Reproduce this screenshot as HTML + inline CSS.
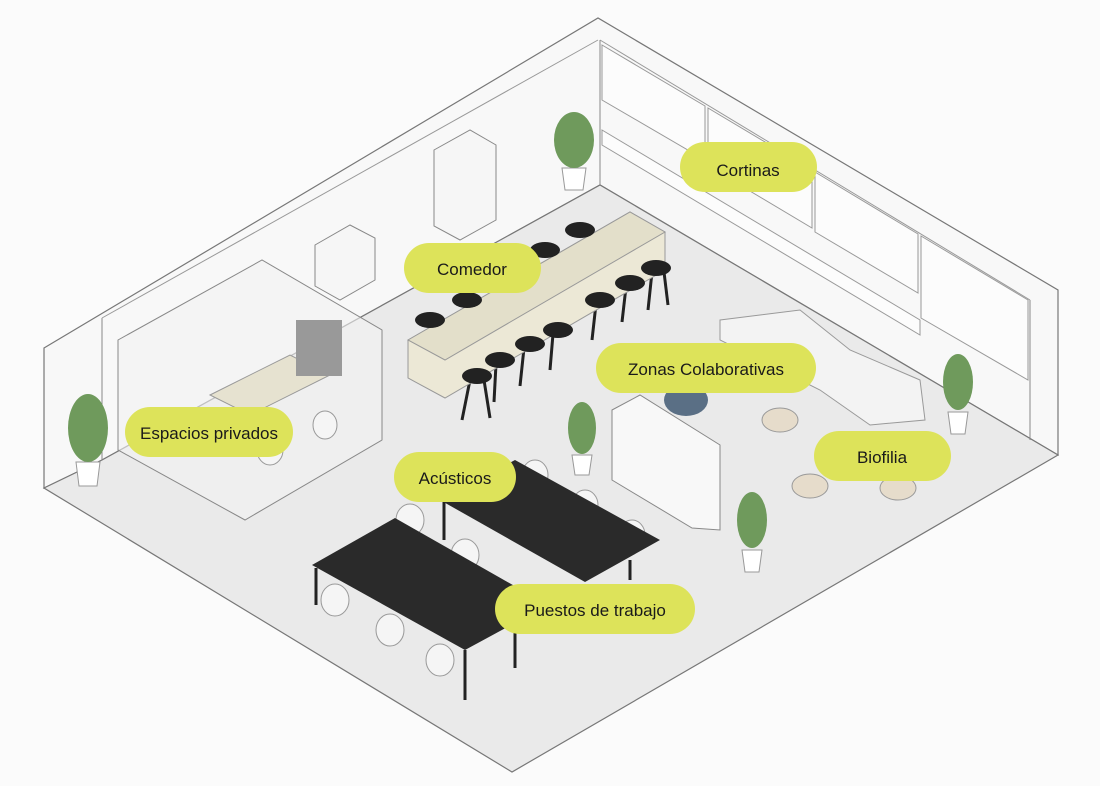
<!DOCTYPE html>
<html><head><meta charset="utf-8"><style>
html,body{margin:0;padding:0;background:#fbfbfb;}
svg{display:block}
text{font-family:"Liberation Sans",sans-serif;font-size:17px;fill:#1a1a1a}
</style></head><body>
<svg width="1100" height="786" viewBox="0 0 1100 786" xmlns="http://www.w3.org/2000/svg">
<rect width="1100" height="786" fill="#fbfbfb"/>
<!-- walls -->
<polygon points="44,348 598,18 1058,290 1058,455 600,185 102,460 44,488" fill="#f8f8f8" stroke="#777" stroke-width="1.2"/>
<!-- floor -->
<polygon points="44,488 102,460 600,185 1058,455 512,772" fill="#eaeaea" stroke="#777" stroke-width="1.2"/>
<line x1="102" y1="318" x2="102" y2="460" stroke="#888"/>
<line x1="600" y1="40" x2="600" y2="185" stroke="#888"/>
<line x1="1030" y1="300" x2="1030" y2="440" stroke="#888"/>
<line x1="102" y1="318" x2="598" y2="40" stroke="#999"/>
<line x1="600" y1="40" x2="1030" y2="300" stroke="#999"/>
<!-- windows right wall -->
<g fill="#fcfcfc" stroke="#999">
<polygon points="602,45 705,106 705,160 602,100"/>
<polygon points="708,108 812,170 812,228 708,166"/>
<polygon points="815,172 918,234 918,293 815,232"/>
<polygon points="921,236 1028,300 1028,380 921,318"/>
<polygon points="602,130 920,320 920,335 602,145"/>
</g>
<!-- cabinets -->
<polygon points="434,150 470,130 496,145 496,220 460,240 434,226" fill="#f6f6f6" stroke="#888"/>
<polygon points="315,245 350,225 375,238 375,280 340,300 315,286" fill="#f6f6f6" stroke="#888"/>
<!-- private glass room -->
<polygon points="118,340 262,260 382,330 382,440 245,520 118,450" fill="#f2f2f2" fill-opacity="0.6" stroke="#888"/>
<polygon points="210,395 290,355 330,375 250,415" fill="#e6e2d0" stroke="#999"/>
<rect x="296" y="320" width="46" height="56" fill="#999"/>
<!-- bar stool legs -->
<g stroke="#222" stroke-width="3">
<line x1="470" y1="380" x2="462" y2="420"/><line x1="484" y1="380" x2="490" y2="418"/>
<line x1="496" y1="364" x2="494" y2="402"/><line x1="524" y1="348" x2="520" y2="386"/>
<line x1="553" y1="334" x2="550" y2="370"/><line x1="596" y1="304" x2="592" y2="340"/>
<line x1="626" y1="287" x2="622" y2="322"/><line x1="652" y1="272" x2="648" y2="310"/><line x1="664" y1="272" x2="668" y2="305"/>
</g>
<!-- bar counter -->
<polygon points="408,340 630,212 665,232 665,270 445,398 408,378" fill="#ece8d6" stroke="#999"/>
<polygon points="408,340 630,212 665,232 445,360" fill="#e3dfca" stroke="#999"/>
<g fill="#222">
<ellipse cx="430" cy="320" rx="15" ry="8"/><ellipse cx="467" cy="300" rx="15" ry="8"/>
<ellipse cx="545" cy="250" rx="15" ry="8"/><ellipse cx="580" cy="230" rx="15" ry="8"/>
<ellipse cx="477" cy="376" rx="15" ry="8"/><ellipse cx="500" cy="360" rx="15" ry="8"/>
<ellipse cx="530" cy="344" rx="15" ry="8"/><ellipse cx="558" cy="330" rx="15" ry="8"/>
<ellipse cx="600" cy="300" rx="15" ry="8"/><ellipse cx="630" cy="283" rx="15" ry="8"/>
<ellipse cx="656" cy="268" rx="15" ry="8"/>
</g>
<!-- sofa -->
<polygon points="720,320 800,310 850,350 920,380 925,420 870,425 820,390 720,340" fill="#f3f3f3" stroke="#999"/>
<ellipse cx="686" cy="400" rx="22" ry="16" fill="#5a6f85"/>
<g fill="#e6dccb" stroke="#999">
<ellipse cx="780" cy="420" rx="18" ry="12"/><ellipse cx="810" cy="486" rx="18" ry="12"/><ellipse cx="898" cy="488" rx="18" ry="12"/>
</g>
<!-- shelf -->
<polygon points="612,410 640,395 720,445 720,530 692,528 612,480" fill="#f8f8f8" stroke="#888"/>
<!-- chairs -->
<g fill="#f5f5f5" stroke="#999">
<ellipse cx="410" cy="520" rx="14" ry="16"/><ellipse cx="535" cy="475" rx="13" ry="15"/><ellipse cx="585" cy="505" rx="13" ry="15"/>
<ellipse cx="632" cy="535" rx="13" ry="15"/><ellipse cx="465" cy="555" rx="14" ry="16"/>
<ellipse cx="335" cy="600" rx="14" ry="16"/><ellipse cx="390" cy="630" rx="14" ry="16"/><ellipse cx="440" cy="660" rx="14" ry="16"/>
<ellipse cx="270" cy="450" rx="13" ry="15"/><ellipse cx="325" cy="425" rx="12" ry="14"/>
</g>
<!-- desks -->
<g stroke="#222" stroke-width="3">
<line x1="444" y1="502" x2="444" y2="540"/><line x1="630" y1="560" x2="630" y2="580"/>
<line x1="316" y1="568" x2="316" y2="605"/><line x1="465" y1="650" x2="465" y2="700"/><line x1="515" y1="620" x2="515" y2="668"/>
</g>
<polygon points="440,500 515,460 660,540 585,582" fill="#2a2a2a"/>
<polygon points="312,565 395,518 548,605 465,650" fill="#2a2a2a"/>
<!-- plants -->
<g fill="#fff" stroke="#999">
<path d="M562,168 h24 l-3,22 h-18z"/><path d="M76,462 h24 l-3,24 h-18z"/><path d="M572,455 h20 l-3,20 h-14z"/>
<path d="M742,550 h20 l-3,22 h-14z"/><path d="M948,412 h20 l-3,22 h-14z"/>
</g>
<g fill="#6f9a5c">
<ellipse cx="574" cy="140" rx="20" ry="28"/><ellipse cx="88" cy="428" rx="20" ry="34"/><ellipse cx="582" cy="428" rx="14" ry="26"/>
<ellipse cx="752" cy="520" rx="15" ry="28"/><ellipse cx="958" cy="382" rx="15" ry="28"/>
</g>
<!-- labels -->
<g fill="#dde35a">
<rect x="680" y="142" width="137" height="50" rx="25"/>
<rect x="404" y="243" width="137" height="50" rx="25"/>
<rect x="596" y="343" width="220" height="50" rx="25"/>
<rect x="125" y="407" width="168" height="50" rx="25"/>
<rect x="814" y="431" width="137" height="50" rx="25"/>
<rect x="394" y="452" width="122" height="50" rx="25"/>
<rect x="495" y="584" width="200" height="50" rx="25"/>
</g>
<g text-anchor="middle">
<text x="748" y="176">Cortinas</text>
<text x="472" y="275">Comedor</text>
<text x="706" y="375">Zonas Colaborativas</text>
<text x="209" y="439">Espacios privados</text>
<text x="882" y="463">Biofilia</text>
<text x="455" y="484">Acústicos</text>
<text x="595" y="616">Puestos de trabajo</text>
</g>
</svg>
</body></html>
